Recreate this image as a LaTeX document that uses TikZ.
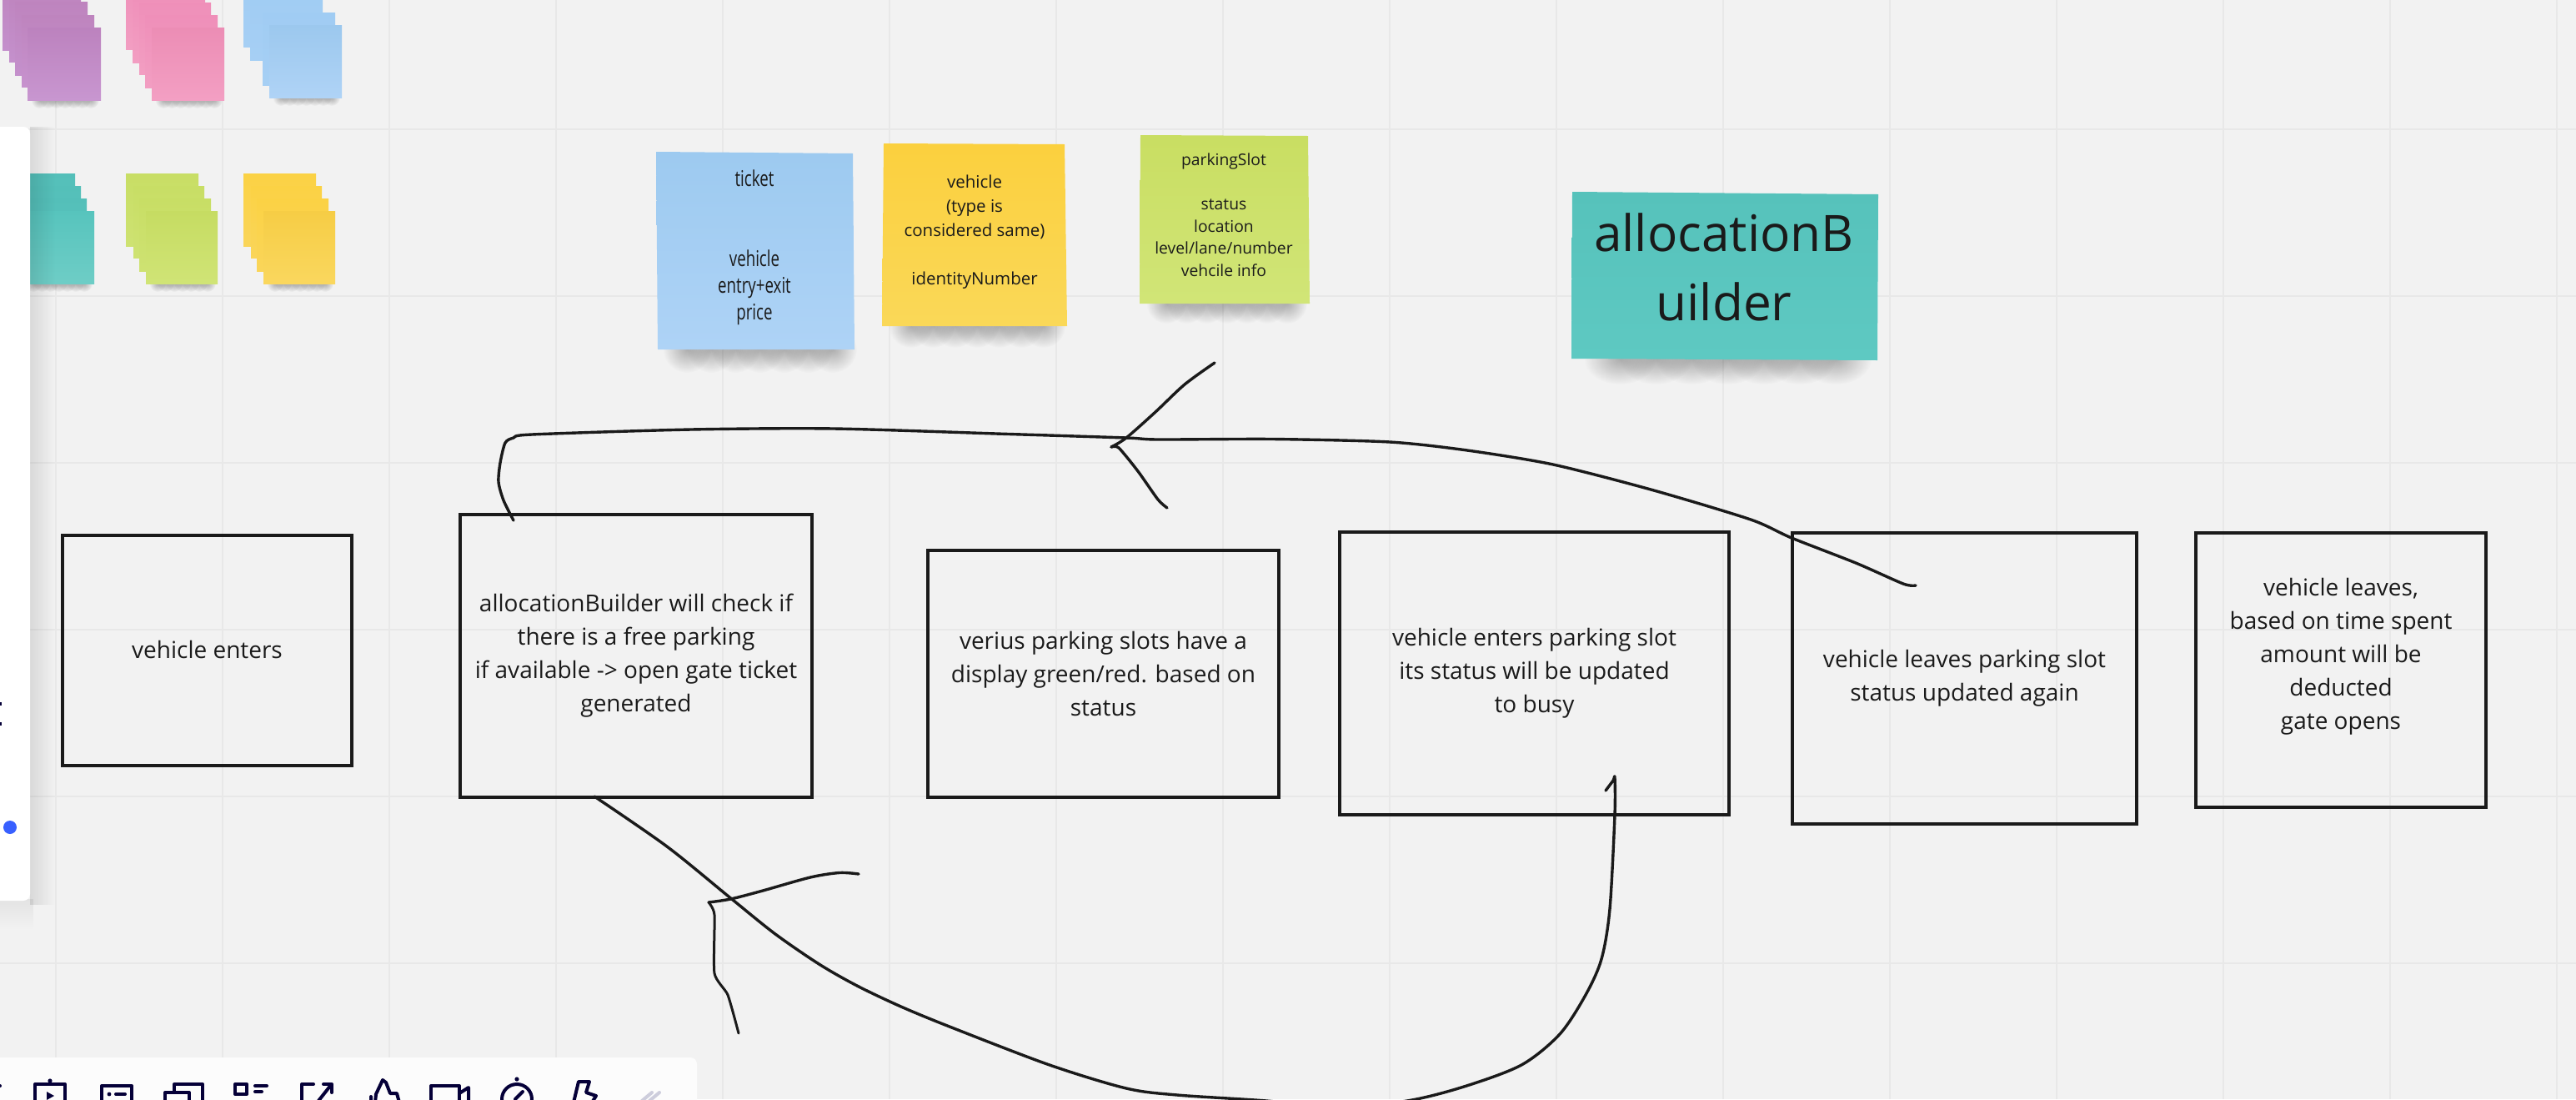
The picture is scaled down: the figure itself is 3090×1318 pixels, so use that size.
\documentclass[tikz,border=0pt]{standalone}
\usepackage{fontspec}
\setmainfont{Open Sans}
\newfontfamily\handfont[FakeStretch=0.72]{Open Sans}
\usetikzlibrary{calc,fadings}
\definecolor{bgc}{HTML}{F2F2F2}
\definecolor{gridc}{HTML}{E8E8E8}
\definecolor{ink}{HTML}{1A1A1A}
\definecolor{navy}{HTML}{050038}
\definecolor{dotblue}{HTML}{3860FF}
\definecolor{barc}{HTML}{FCFCFC}
\definecolor{chev}{HTML}{CDCDDC}
\tikzfading[name=softshadow, inner color=transparent!72, outer color=transparent!100]
\tikzset{
  x=1pt,y=-1pt,
  flowbox/.style={draw=ink,line width=4pt,rectangle,inner sep=0pt,text=ink,align=center,
    font=\fontsize{28}{40}\selectfont},
  stickytext/.style={text=ink,align=center,inner sep=0pt},
  hand/.style={draw=ink,line width=3.4pt,line cap=round,line join=round},
  gridline/.style={draw=gridc,line width=2pt},
  icon/.style={draw=navy,line width=4pt,line cap=round,line join=round},
}
\newcommand{\sheet}[6]{% left,top,right,bottom,topcol,botcol
  \definecolor{tcol}{HTML}{#5}\definecolor{bcol}{HTML}{#6}
  \shade[top color=tcol,bottom color=bcol] (#1,#2) rectangle (#3,#4);}
\newcommand{\softshadow}[4]{% from x, to x, edge y, depth: a row of soft cones
  \foreach \tt in {1,...,7}{
    \pgfmathsetmacro{\cxx}{#1+\tt*(#2-#1)/8}
    \pgfmathsetmacro{\rxx}{(#2-#1)/8}
    \fill[black,path fading=softshadow] (\cxx,#3) ellipse [x radius=\rxx,y radius=#4];
  }}
\newcommand{\bigsticky}[3]{% topcol,botcol,path
  \definecolor{tcol}{HTML}{#1}\definecolor{bcol}{HTML}{#2}
  \shade[top color=tcol,bottom color=bcol] #3;}
\begin{document}
\begin{tikzpicture}
\useasboundingbox (0,0) rectangle (3090,1318);
\clip (0,0) rectangle (3090,1318);
\fill[bgc] (0,0) rectangle (3090,1318);
% grid
\foreach \gx in {67,267,...,3067} \draw[gridline] (\gx,0) -- (\gx,1318);
\foreach \gy in {155,355,...,1155} \draw[gridline] (0,\gy) -- (3090,\gy);
% stack shadows
\softshadow{37}{119}{120}{10}
\softshadow{186}{267}{120}{10}
\softshadow{327}{408}{117}{10}
\softshadow{30}{111}{340}{10}
\softshadow{179}{259}{340}{10}
\softshadow{320}{400}{340}{10}
% purple stack
\sheet{3}{-27}{90}{60}{BE84BE}{C490CC}
\sheet{11}{-13}{97}{74}{BE84BE}{C490CC}
\sheet{18}{2}{105}{90}{BE84BE}{C490CC}
\sheet{26}{18}{113}{104}{BE84BE}{C792CE}
\sheet{33}{33}{121}{120}{BC82BE}{C896D0}
% pink stack
\sheet{151}{-27}{238}{59}{EF8FB9}{F29EC2}
\sheet{159}{-13}{246}{75}{EF8FB9}{F29EC2}
\sheet{167}{3}{253}{89}{EF8FB9}{F29EC2}
\sheet{174}{18}{261}{105}{EF8FB9}{F29EC2}
\sheet{182}{33}{269}{120}{EC8DB5}{F39FC3}
% blue stack
\sheet{292}{-31}{379}{56}{A0CCF3}{A6CFF4}
\sheet{300}{-15}{387}{72}{A0CCF3}{A6CFF4}
\sheet{315}{15}{402}{102}{A0CCF3}{A6CFF4}
\sheet{323}{30}{410}{117}{9CC8EE}{AFD3F6}
% teal stack
\sheet{3}{208}{90}{295}{54BFB9}{5CC8C0}
\sheet{10}{223}{97}{310}{54BFB9}{5CC8C0}
\sheet{17}{238}{104}{325}{54BFB9}{5CC8C0}
\sheet{26}{253}{113}{340}{57C4BD}{6ECDC6}
% green stack
\sheet{151}{208}{238}{295}{C8DE65}{CEE272}
\sheet{160}{223}{245}{309}{C8DE65}{CEE272}
\sheet{167}{238}{253}{325}{C8DE65}{CEE272}
\sheet{175}{253}{261}{340}{C6DC62}{D0E476}
% yellow stack
\sheet{292}{208}{379}{295}{FBD244}{FAD55A}
\sheet{301}{223}{386}{309}{FBD244}{FAD55A}
\sheet{308}{238}{394}{325}{FBD244}{FAD55A}
\sheet{316}{253}{402}{340}{F6CD45}{FAD75E}
% big sticky shadows
\softshadow{795}{1028}{419}{28}
\softshadow{1066}{1278}{391}{26}
\softshadow{1375}{1568}{364}{24}
\softshadow{1900}{2245}{431}{30}
% big stickies
\bigsticky{9DCAF0}{AED3F6}{(787,182) -- (1023,184) -- (1025,419) -- (789,419) -- cycle}
\bigsticky{FBD03E}{FAD858}{(1060,172) -- (1277,173) -- (1280,391) -- (1058,391) -- cycle}
\bigsticky{C9DE62}{D1E577}{(1368,162) -- (1569,163) -- (1571,364) -- (1367,364) -- cycle}
\bigsticky{56C2BB}{5EC9C2}{(1886,230) -- (2253,233) -- (2252,432) -- (1885,430) -- cycle}
% sticky texts
\node[stickytext,font=\handfont\fontsize{26}{32}\selectfont] (ticket) at (905,297) {ticket\\\mbox{}\\\mbox{}\\vehicle\\entry+exit\\price};
\node[stickytext,font=\fontsize{20.5}{29}\selectfont] (vehicle) at (1169,278) {vehicle\\(type is\\considered same)\\\mbox{}\\identityNumber};
\node[stickytext,font=\fontsize{19.3}{26.6}\selectfont] (slot) at (1468,257.5) {parkingSlot\\\mbox{}\\status\\location\\level/lane/number\\vehcile info};
\node[stickytext,font=\fontsize{60.3}{83}\selectfont] (builder) at (2068,320) {allocationB\\uilder};
% flow boxes
\node[flowbox,minimum width=347pt,minimum height=276pt] (enters) at (248.5,780) {\raisebox{2pt}{vehicle enters}};
\node[flowbox,minimum width=422pt,minimum height=339pt] (check) at (763,786.5) {allocationBuilder will check if\\there is a free parking\\if available -> open gate ticket\\generated};
\node[flowbox,minimum width=421pt,minimum height=296pt] (display) at (1323.5,808) {verius parking slots have a\\display green/red. based on\\status};
\node[flowbox,line width=3.4pt,minimum width=467pt,minimum height=339pt] (inslot) at (1840.5,807.5) {vehicle enters parking slot\\its status will be updated\\to busy};
\node[flowbox,minimum width=413pt,minimum height=349pt] (outslot) at (2356.5,813.5) {vehicle leaves parking slot\\status updated again};
\node[flowbox,minimum width=348pt,minimum height=329pt] (leaves) at (2808,803.5) {vehicle leaves,\\based on time spent\\amount will be\\deducted\\gate opens\\\mbox{}};
% connector ends
\coordinate (topstart) at ($(check.north west)+(66,9)$);
\coordinate (topend) at ($(outslot.north west)+(150,65)$);
\coordinate (headA) at (1333,536);
\coordinate (headAup) at (1457,435);
\coordinate (headAdown) at (1400,609);
\coordinate (botstart) at ($(check.south west)+(163,-3)$);
\coordinate (botend) at (1926,948);
\coordinate (headB) at (850,1082);
\coordinate (headBright) at (1030,1048);
\coordinate (headBdown) at (886,1239);
% hand-drawn connectors
\draw[hand] plot[smooth,tension=.45] coordinates {(topstart) (604,600) (598,578) (600,555) (606,531) (616,525) (638,521) (829,515) (1000,514) (1210,520.5) (1351,525) (1389,527) (1526,526.5) (1667,530) (1760,540) (1863,557) (1982,587.5) (2100,623) (2149,645) (2226,675) (2283,700) (topend)};
\draw[hand] plot[smooth,tension=.5] coordinates {(headAup) (1421,461) (1386,494) (1351,525) (headA)};
\draw[hand] plot[smooth,tension=.4] coordinates {(headA) (1342,537) (1365,565) (1389,599) (headAdown)};
\draw[hand] plot[smooth,tension=.5] coordinates {(botstart) (800,1015) (876.5,1077) (930,1120) (984,1157) (1030,1183) (1083,1208) (1144,1233) (1259,1277) (1351,1305) (1412,1313) (1519,1320) (1600,1328) (1688,1320) (1756,1303) (1825,1277) (1871,1240) (1902,1193) (1921,1150) (1931,1090) (1937,977) (1937,933) (1935,936) (botend)};
\draw[hand] plot[smooth,tension=.5] coordinates {(headBright) (1007,1046.5) (972,1052) (915,1068) (876.5,1078) (headB)};
\draw[hand,line width=3pt] plot[smooth,tension=.35] coordinates {(headB) (857,1097) (857,1167) (873,1193) (headBdown)};
% left panel with shadow
\fill[black,opacity=.10,path fading=east] (36,150) rectangle (66,1085);
\fill[black,opacity=.06,path fading=south] (0,1078) rectangle (40,1115);
\fill[white,rounded corners=8pt] (-20,152) rectangle (36,1080);
\fill[navy] (0,842) rectangle (2,846);
\fill[navy] (0,866) rectangle (2,870);
\fill[dotblue] (12,992) circle [radius=8];
% bottom toolbar
\fill[barc,rounded corners=8pt] (-20,1268) rectangle (836,1340);
\fill[navy] (0,1302) circle [radius=2];
% toolbar icons
\draw[icon] (42,1322) -- (42,1300) -- (78,1300) -- (78,1322);
\fill[navy] (60,1296) circle [radius=2.6];
\fill[navy] (56,1309) -- (65,1314) -- (56,1319) -- cycle;
\draw[icon] (122,1322) -- (122,1302) -- (158,1302) -- (158,1322);
\fill[navy] (131,1312) circle [radius=2.4];
\draw[icon] (139,1312) -- (150,1312);
\draw[icon] (209,1308) -- (209,1300) -- (243,1300) -- (243,1322);
\draw[icon] (198,1322) -- (198,1310) -- (227,1310) -- (227,1322);
\draw[icon] (282,1300) rectangle (296,1312);
\draw[icon] (306,1302) -- (320,1302);
\draw[icon] (306,1309) -- (314,1309);
\draw[icon] (362,1322) -- (362,1300) -- (376,1300);
\draw[icon] (382,1320) -- (397,1301);
\draw[icon] (388,1300) -- (398,1300) -- (398,1310);
\draw[icon] (445,1315) -- (445,1322);
\draw[icon] (450,1322) -- (451,1312) -- (459,1295) -- (463,1298) -- (468,1311) -- (476,1311) -- (479,1322);
\draw[icon] (517,1322) -- (517,1302) -- (551,1302) -- (551,1322);
\draw[icon] (551,1311) -- (562,1304) -- (562,1322);
\draw[icon] (620,1318) circle [radius=18];
\fill[navy] (620,1294) circle [radius=2.6];
\draw[icon] (618,1318) -- (627,1309);
\draw[icon] (688,1322) -- (694,1297) -- (707,1297) -- (703,1310) -- (715,1314) -- (710,1322);
\draw[icon,draw=chev] (782,1310) -- (770,1320);
\draw[icon,draw=chev] (791,1310) -- (779,1320);
\end{tikzpicture}
\end{document}
